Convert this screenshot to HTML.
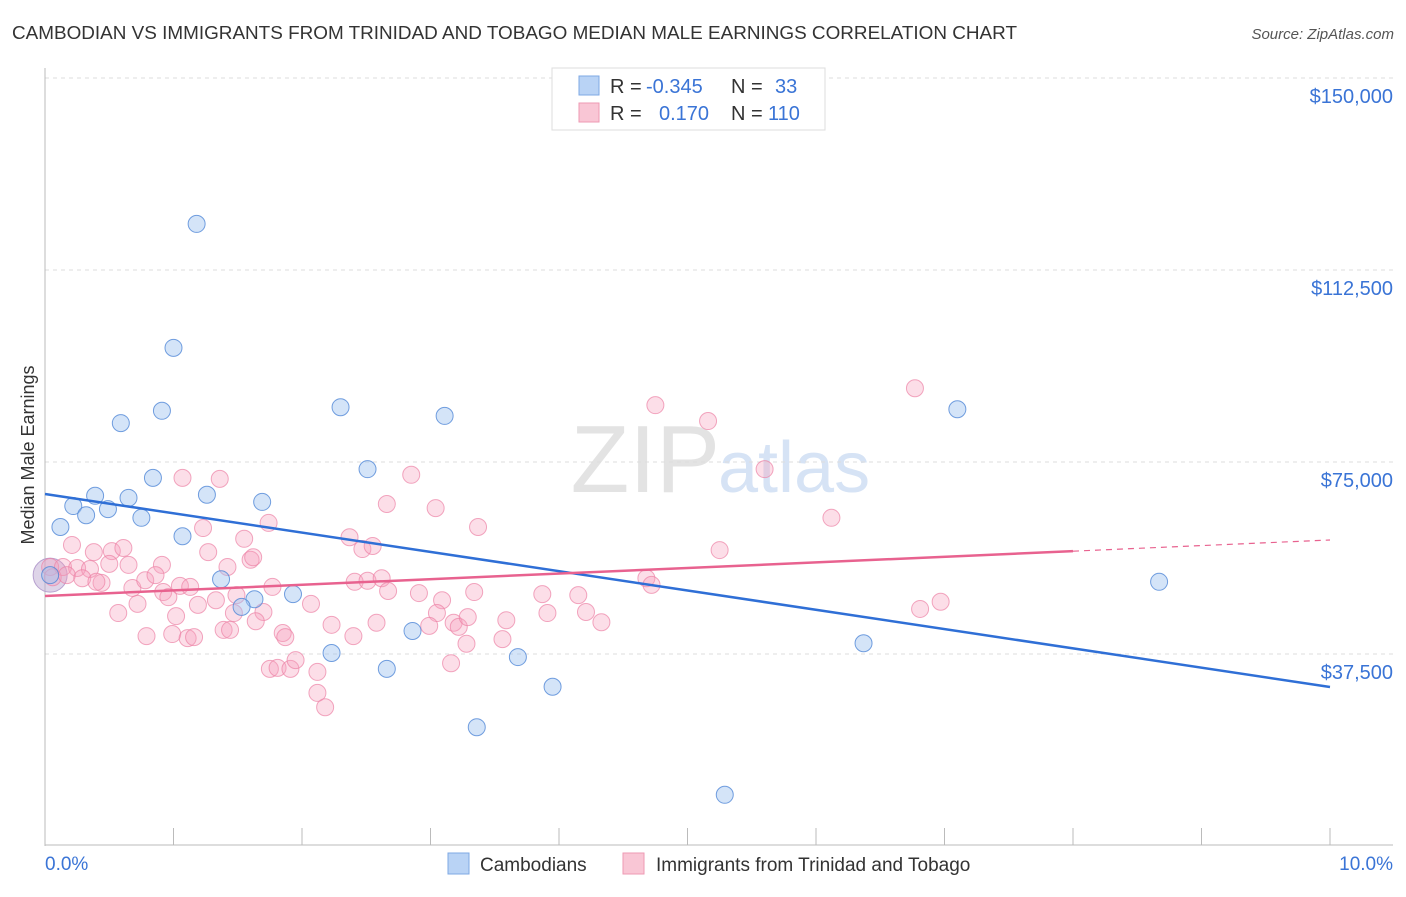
<!DOCTYPE html>
<html><head><meta charset="utf-8"><style>
body{margin:0;background:#fff;font-family:"Liberation Sans",sans-serif;}
svg text{font-family:"Liberation Sans",sans-serif;}
</style></head><body>
<svg id="chart" width="1406" height="892">
<text x="12" y="39" font-size="18.5" fill="#333" textLength="1005" lengthAdjust="spacingAndGlyphs">CAMBODIAN VS IMMIGRANTS FROM TRINIDAD AND TOBAGO MEDIAN MALE EARNINGS CORRELATION CHART</text>
<text x="1394" y="39" font-size="15" fill="#555" font-style="italic" text-anchor="end">Source: ZipAtlas.com</text>
<text x="34" y="455" font-size="18" fill="#333" text-anchor="middle" transform="rotate(-90 34 455)">Median Male Earnings</text>
<text x="720" y="492" font-size="96" fill="#e3e3e3" text-anchor="end" font-family="Liberation Serif">ZIP</text>
<text x="718" y="492" font-size="72" fill="#d6e3f5">atlas</text>
<g id="grid"></g><g id="marks"></g>
<g>
<rect x="552" y="68" width="273" height="62" fill="#fff" stroke="#ddd"/>
<rect x="579" y="76" width="20" height="19" fill="#b9d3f5" stroke="#7ea8e4"/>
<rect x="579" y="103" width="20" height="19" fill="#f9c6d5" stroke="#ee9ab3"/>
<text x="610" y="93" font-size="20" fill="#333">R =</text>
<text x="646" y="93" font-size="20" fill="#3a74d6">-0.345</text>
<text x="731" y="93" font-size="20" fill="#333">N =</text>
<text x="775" y="93" font-size="20" fill="#3a74d6">33</text>
<text x="610" y="120" font-size="20" fill="#333">R =</text>
<text x="659" y="120" font-size="20" fill="#3a74d6">0.170</text>
<text x="731" y="120" font-size="20" fill="#333">N =</text>
<text x="768" y="120" font-size="20" fill="#3a74d6">110</text>
</g>
<g>
<rect x="448" y="853" width="21" height="21" fill="#b9d3f5" stroke="#7ea8e4"/>
<text x="480" y="871" font-size="19" fill="#333">Cambodians</text>
<rect x="623" y="853" width="21" height="21" fill="#f9c6d5" stroke="#ee9ab3"/>
<text x="656" y="871" font-size="19" fill="#333">Immigrants from Trinidad and Tobago</text>
</g>
</svg>
<script>
const yTicks=[37500,75000,112500,150000];
const yTickLabels=["$37,500","$75,000","$112,500","$150,000"];
const xTickLabels=["0.0%","10.0%"];
const cambX=[1.18,1.00,0.59,0.91,2.30,3.11,7.10,0.84,2.51,0.39,0.65,1.26,1.69,0.22,0.49,0.32,0.75,0.12,1.07,1.37,8.67,1.93,1.63,1.53,2.86,2.23,3.68,6.37,2.66,3.95,3.36,5.29,0.04];
const cambY=[121.5,97.3,82.6,85.0,85.7,84.0,85.3,71.9,73.6,68.4,68.0,68.6,67.2,66.4,65.8,64.6,64.1,62.3,60.5,52.1,51.6,49.2,48.2,46.7,42.0,37.7,36.9,39.6,34.6,31.1,23.2,10.0,52.9];
const trinX=[1.07,1.36,2.85,2.66,3.04,3.37,1.23,1.74,0.21,0.38,0.52,0.61,1.27,1.55,2.37,2.47,2.55,1.42,1.60,1.62,0.50,0.65,0.91,0.04,0.14,0.25,0.35,0.06,0.17,0.29,0.44,0.40,0.68,0.78,0.86,0.92,0.96,1.05,1.13,1.77,2.41,2.51,2.62,2.67,2.91,3.34,3.87,0.72,1.19,1.33,1.49,1.47,1.70,1.64,2.07,3.09,3.05,3.91,0.57,1.02,2.23,2.58,2.99,3.18,3.22,3.29,3.59,3.56,3.28,0.79,0.99,1.11,1.16,1.39,1.44,1.85,1.87,2.40,3.16,1.75,1.81,1.91,1.95,2.12,2.12,2.18,4.75,5.16,5.60,6.77,6.12,5.25,4.68,4.72,4.15,4.21,4.33,6.81,6.97];
const trinY=[71.9,71.7,72.5,66.8,66.0,62.3,62.1,63.1,58.8,57.4,57.6,58.2,57.4,60.0,60.3,58.0,58.6,54.5,55.9,56.4,55.1,54.9,54.9,54.5,54.5,54.3,54.1,52.5,52.9,52.3,51.4,51.6,50.4,51.9,52.9,49.6,48.6,50.8,50.6,50.6,51.6,51.8,52.3,49.8,49.4,49.6,49.2,47.3,47.1,48.0,49.0,45.5,45.7,43.9,47.3,48.0,45.5,45.5,45.5,44.9,43.2,43.6,43.0,43.6,42.8,44.7,44.1,40.4,39.5,41.0,41.4,40.6,40.8,42.2,42.2,41.6,40.8,41.0,35.7,34.6,34.8,34.6,36.3,34.0,29.9,27.1,86.1,83.0,73.6,89.4,64.1,57.8,52.3,51.0,49.0,45.7,43.7,46.3,47.7];
const cambTrend=[68.75,31.06];
const trinTrend=[48.83,59.77];
const trinSolidEnd=8.0;
const NS="http://www.w3.org/2000/svg";
const xs=v=>45+v*128.5;
const ys=v=>846-v/150000*768;
const ysk=v=>ys(v*1000);
const grid=document.getElementById('grid'),marks=document.getElementById('marks');
function mk(tag,attrs,parent){const e=document.createElementNS(NS,tag);for(const k in attrs)e.setAttribute(k,attrs[k]);parent.appendChild(e);return e;}
yTicks.forEach((t,i)=>{
 const l=mk('line',{x1:45,x2:1393,y1:ys(t),y2:ys(t),stroke:'#ddd','stroke-dasharray':'4,4'},grid);
 
 
 const tx=mk('text',{x:1393,y:ys(t)+25,'font-size':20,fill:'#3a74d6','text-anchor':'end'},grid);
 tx.textContent=yTickLabels[i];
 
 
});
const ax=mk('line',{x1:45,x2:45,y1:68,y2:846,stroke:'#bbb'},grid);


const bx=mk('line',{x1:45,x2:1393,y1:845,y2:845,stroke:'#bbb'},grid);


for(let i=0;i<=10;i++){const t=mk('line',{x1:xs(i),x2:xs(i),y1:828,y2:845,stroke:'#bbb'},grid);
 
 }
[[0,'start',45],[10,'end',1393]].forEach((d,i)=>{const t=mk('text',{x:d[2],y:870,'font-size':19,fill:'#3a74d6','text-anchor':d[1]},grid);t.textContent=xTickLabels[i];
 
 });
const big=mk('circle',{cx:xs(0.04),cy:ysk(52.9),r:17,fill:'rgba(190,170,210,0.5)',stroke:'#b7a0cf'},marks);


trinX.forEach((x,i)=>{const c=mk('circle',{cx:xs(x),cy:ysk(trinY[i]),r:8.5,fill:'rgba(246,160,188,0.35)',stroke:'rgba(236,130,165,0.7)'},marks);
 
 });
cambX.forEach((x,i)=>{const c=mk('circle',{cx:xs(x),cy:ysk(cambY[i]),r:8.5,fill:'rgba(160,195,240,0.45)',stroke:'rgba(80,135,215,0.8)'},marks);
 
 });
const lerp=(a,b,t)=>a+(b-a)*t;
let l1=mk('line',{x1:xs(0),y1:ysk(cambTrend[0]),x2:xs(10),y2:ysk(cambTrend[1]),stroke:'#2f6fd6','stroke-width':2.5},marks);


let l2=mk('line',{x1:xs(0),y1:ysk(trinTrend[0]),x2:xs(trinSolidEnd),y2:ysk(lerp(trinTrend[0],trinTrend[1],trinSolidEnd/10)),stroke:'#e8628f','stroke-width':2.5},marks);


let l3=mk('line',{x1:xs(trinSolidEnd),y1:ysk(lerp(trinTrend[0],trinTrend[1],trinSolidEnd/10)),x2:xs(10),y2:ysk(trinTrend[1]),stroke:'#e8628f','stroke-width':1.2,'stroke-dasharray':'6,5'},marks);


</script>
</body></html>
